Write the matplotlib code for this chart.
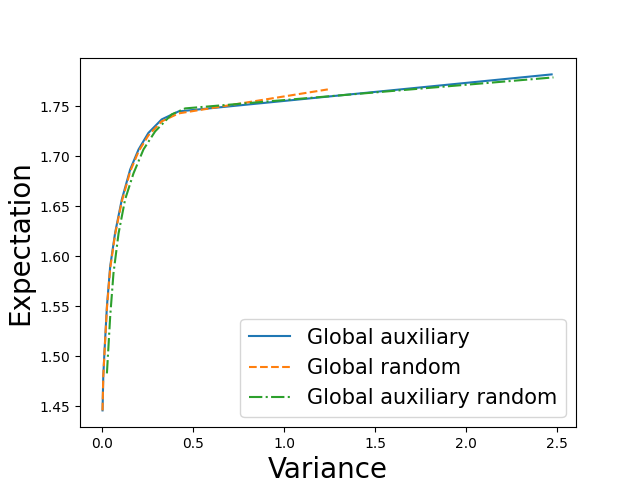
import matplotlib
matplotlib.use("Agg")
import matplotlib.pyplot as plt

aux_x = [0.002, 0.006, 0.013, 0.026, 0.044, 0.071, 0.108, 0.154, 0.20, 0.254, 0.327, 0.42, 2.47]
aux_y = [1.446, 1.48, 1.506, 1.550, 1.590, 1.6235, 1.657, 1.687, 1.707, 1.7235, 1.737, 1.745, 1.782]

rnd_x = [0.002, 0.006, 0.013, 0.026, 0.044, 0.071, 0.108, 0.154, 0.20, 0.254, 0.327, 0.42, 1.24]
rnd_y = [1.446, 1.48, 1.505, 1.548, 1.588, 1.622, 1.655, 1.685, 1.705, 1.721, 1.735, 1.743, 1.767]

auxrnd_x = [0.026, 0.044, 0.062, 0.09, 0.126, 0.172, 0.227, 0.291, 0.382, 0.456, 2.48]
auxrnd_y = [1.483, 1.540, 1.583, 1.623, 1.657, 1.683, 1.707, 1.725, 1.742, 1.748, 1.779]

fig, ax = plt.subplots(figsize=(6.4, 4.8), dpi=100)
ax.plot(aux_x, aux_y, '-', label='Global auxiliary')
ax.plot(rnd_x, rnd_y, '--', label='Global random')
ax.plot(auxrnd_x, auxrnd_y, '-.', label='Global auxiliary random')
ax.set_xlabel('Variance', fontsize=20)
ax.set_ylabel('Expectation', fontsize=20)
ax.legend(loc='lower right', fontsize=15)
fig.savefig('out.png')
